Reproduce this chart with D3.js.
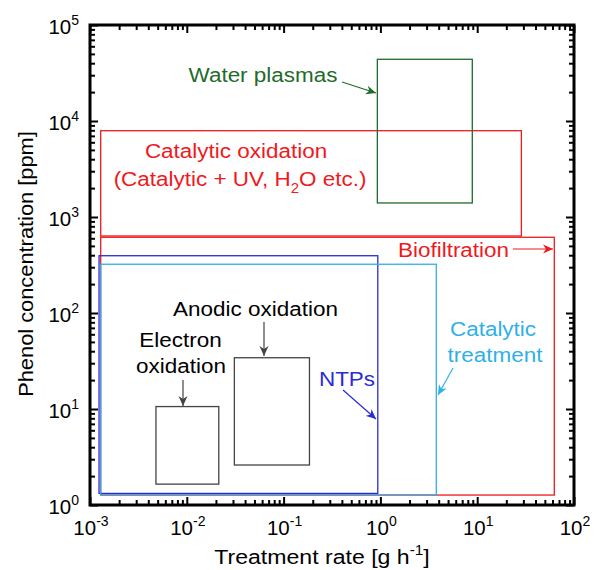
<!DOCTYPE html>
<html><head><meta charset="utf-8">
<script src="https://cdn.jsdelivr.net/npm/d3@7"></script>
<style>body{margin:0;background:#fff}svg{display:block}text{font-family:"Liberation Sans",Arial,sans-serif}</style>
</head><body>
<svg id="c" width="598" height="570"></svg>
<script>
// ---- data ----
const xDomain = [1e-3, 1e2];
const yDomain = [1e0, 1e5];
const xMajor = [-3, -2, -1, 0, 1, 2];
const yMajor = [0, 1, 2, 3, 4, 5];
const names = ["Catalytic oxidation", "Water plasmas", "Biofiltration", "NTPs", "Catalytic treatment", "Electron oxidation", "Anodic oxidation"];
const xMin = [0.00129, 0.93, 0.00129, 0.00124, 0.00129, 0.0048, 0.031];
const xMax = [28.6, 8.9, 62.6, 0.94, 3.78, 0.0214, 0.185];
const yMin = [634, 1400, 1.27, 1.32, 1.27, 1.65, 2.61];
const yMax = [7920, 43950, 615, 395, 322, 10.6, 34.2];
const colors = ["#f0191c", "#1f6b2c", "#f0191c", "#2b2bd4", "#30b0e8", "#444444", "#444444"];

const svg = d3.select("#c");
const L = 90, R = 574, T = 25, B = 505;
const x = d3.scaleLog().domain(xDomain).range([L, R]);
const y = d3.scaleLog().domain(yDomain).range([B, T]);
const FS = 21, SX = 1.07;

// boxes
const boxes = names.map((n, i) => ({n, x0: xMin[i], x1: xMax[i], y0: yMin[i], y1: yMax[i], c: colors[i]}));
svg.append("g").selectAll("rect").data(boxes).join("rect")
  .attr("x", d => x(d.x0)).attr("y", d => y(d.y1))
  .attr("width", d => x(d.x1) - x(d.x0)).attr("height", d => y(d.y0) - y(d.y1))
  .attr("fill", "none").attr("stroke", d => d.c).attr("stroke-width", 1.3);

// ticks
function allTicks(majors) {
  const t = [];
  majors.forEach((e, i) => { t.push(Math.pow(10, e)); if (i < majors.length - 1) for (let k = 2; k < 10; k++) t.push(k * Math.pow(10, e)); });
  return t;
}
const isMajor = v => Math.abs(Math.log10(v) - Math.round(Math.log10(v))) < 1e-9;
function styleAxis(g, sign, horiz) {
  g.select(".domain").remove();
  g.selectAll(".tick line").attr("stroke", "#000").attr("stroke-width", 2)
    .attr(horiz ? "y2" : "x2", d => sign * (isMajor(d) ? 8 : 5));
  g.selectAll(".tick text").remove();
}
const xt = allTicks(xMajor), yt = allTicks(yMajor);
styleAxis(svg.append("g").attr("transform", `translate(0,${B})`).call(d3.axisBottom(x).tickValues(xt)), -1, true);
styleAxis(svg.append("g").attr("transform", `translate(0,${T})`).call(d3.axisTop(x).tickValues(xt)), 1, true);
styleAxis(svg.append("g").attr("transform", `translate(${L},0)`).call(d3.axisLeft(y).tickValues(yt)), 1, false);
styleAxis(svg.append("g").attr("transform", `translate(${R},0)`).call(d3.axisRight(y).tickValues(yt)), -1, false);

svg.append("rect").attr("x", L).attr("y", T).attr("width", R - L).attr("height", B - T)
  .attr("fill", "none").attr("stroke", "#000").attr("stroke-width", 3);

// tick labels
function powLabel(g, e) {
  g.append("tspan").text("10").attr("font-size", 20.5);
  g.append("tspan").text(e).attr("font-size", 14).attr("dy", -9);
}
xMajor.forEach(e => {
  const t = svg.append("text").attr("x", x(Math.pow(10, e)) + 1).attr("y", B + 30).attr("text-anchor", "middle").attr("fill", "#000");
  powLabel(t, e);
});
yMajor.forEach(e => {
  const t = svg.append("text").attr("x", L - 11).attr("y", y(Math.pow(10, e)) + 9).attr("text-anchor", "end").attr("fill", "#000");
  powLabel(t, e);
});

// axis titles
const xt1 = svg.append("text").attr("transform", `translate(322,564) scale(${SX + 0.03},1)`).attr("text-anchor", "middle").attr("font-size", FS);
xt1.append("tspan").text("Treatment rate [g h");
xt1.append("tspan").text("-1").attr("font-size", 14).attr("dy", -9);
xt1.append("tspan").text("]").attr("dy", 9);
svg.append("text").attr("transform", `translate(33,264) rotate(-90) scale(1.04,1)`).attr("text-anchor", "middle").attr("font-size", FS).text("Phenol concentration [ppm]");

// annotations
svg.append("defs").selectAll("marker").data(colors.map((c, i) => ({c, i}))).join("marker")
  .attr("id", d => "m" + d.i).attr("viewBox", "0 0 10 10").attr("refX", 10).attr("refY", 5)
  .attr("markerWidth", 10).attr("markerHeight", 10).attr("markerUnits", "userSpaceOnUse").attr("orient", "auto")
  .append("path").attr("d", "M0,0.5 L10,5 L0,9.5 L3,5 Z").attr("fill", d => d.c);

function label(lines, cxs, bys, col) {
  lines.forEach((ln, i) => svg.append("text").attr("transform", `translate(${cxs[i]},${bys[i]}) scale(${SX},1)`)
    .attr("text-anchor", "middle").attr("fill", col).attr("font-size", FS).text(ln));
}
function arrow(x1, y1, x2, y2, ci) {
  svg.append("line").attr("x1", x1).attr("y1", y1).attr("x2", x2).attr("y2", y2)
    .attr("stroke", colors[ci]).attr("stroke-width", 1.2).attr("marker-end", `url(#m${ci})`);
}
label(["Water plasmas"], [263], [82], colors[1]);
arrow(342, 82, 376, 93, 1);

label(["Catalytic oxidation"], [236], [158], colors[0]);
const co = svg.append("text").attr("transform", `translate(240,186) scale(${SX},1)`).attr("text-anchor", "middle").attr("fill", colors[0]).attr("font-size", FS);
co.append("tspan").text("(Catalytic + UV, H");
co.append("tspan").text("2").attr("font-size", 14).attr("dy", 7);
co.append("tspan").text("O etc.)").attr("dy", -7);

label(["Biofiltration"], [453.5], [257], colors[2]);
arrow(513, 249, 553, 249, 2);

label(["Anodic oxidation"], [255.5], [316], "#000");
arrow(264, 322, 264, 356, 5);

label(["Electron", "oxidation"], [180.5, 181], [347, 373], "#000");
arrow(183, 380, 183, 406, 5);

label(["NTPs"], [347], [386], colors[3]);
arrow(343, 390, 376, 419, 3);

label(["Catalytic", "treatment"], [493, 495], [336, 362], colors[4]);
arrow(453, 368, 438, 395, 4);
</script>
</body></html>
